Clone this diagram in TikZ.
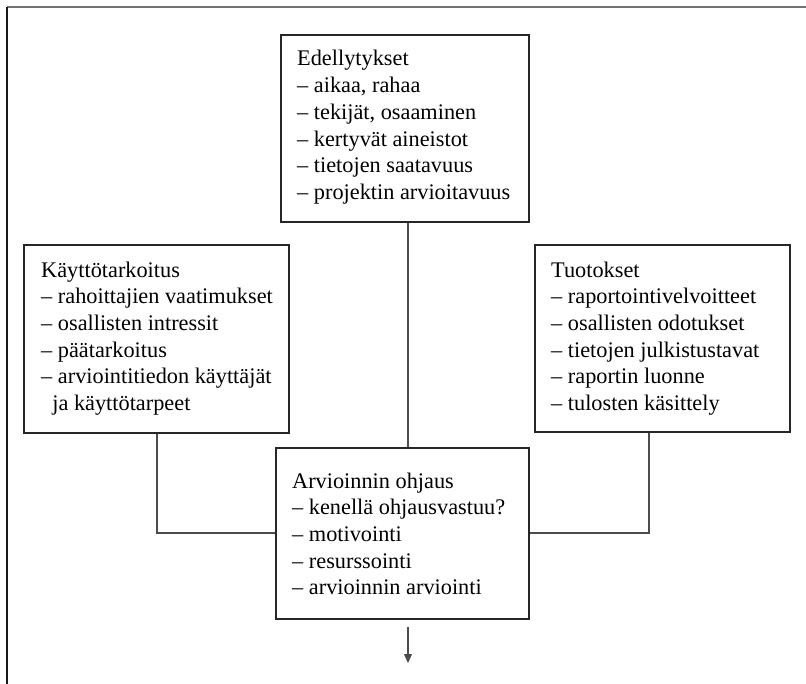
\documentclass[tikz,border=0pt]{standalone}
\usepackage{fontspec}
\setmainfont{Liberation Serif}
\usetikzlibrary{arrows.meta,calc}
\begin{document}
\begin{tikzpicture}[x=1pt,y=-1pt,
  box/.style={draw=black!85, line width=1.1pt, rectangle, inner sep=0pt},
  txt/.style={anchor=base west, align=left, inner sep=0pt,
    font=\fontsize{22.3}{26.7}\selectfont},
  conn/.style={draw=black!70, line width=1.1pt},
  frame/.style={line width=1.6pt}]
\useasboundingbox (0,0) rectangle (806,684);
% outer frame
\coordinate (fTL) at (7,7);
\coordinate (fTR) at (806,7);
\coordinate (fBL) at (7,684);
\draw[frame, draw=black!55] (fTL) -- (fTR);
\draw[frame, draw=black!90] (fTL) -- (fBL);
% boxes
\node[box, minimum width=248pt, minimum height=187pt] (ed) at (405,128.5) {};
\node[box, minimum width=265pt, minimum height=188pt] (kt) at (156.5,339) {};
\node[box, minimum width=255pt, minimum height=187pt] (tu) at (662.5,338.5) {};
\node[box, minimum width=253pt, minimum height=171pt] (ao) at (402.5,533.5) {};
% texts (anchored at the baseline of their last line)
\node[txt] (edt) at (297,199.5) {Edellytykset\\– aikaa, rahaa\\– tekijät, osaaminen\\– kertyvät aineistot\\– tietojen saatavuus\\– projektin arvioitavuus};
\node[txt] (ktt) at (41,410.5) {Käyttötarkoitus\\– rahoittajien vaatimukset\\– osallisten intressit\\– päätarkoitus\\– arviointitiedon käyttäjät\\\hspace*{0.5em}ja käyttötarpeet};
\node[txt] (tut) at (551,410.5) {Tuotokset\\– raportointivelvoitteet\\– osallisten odotukset\\– tietojen julkistustavat\\– raportin luonne\\– tulosten käsittely};
\node[txt] (aot) at (292,594.8) {Arvioinnin ohjaus\\– kenellä ohjausvastuu?\\– motivointi\\– resurssointi\\– arvioinnin arviointi};
% connectors
\coordinate (mx) at (408,0);
\coordinate (lj) at (157,533);
\coordinate (rj) at (649,533);
\coordinate (arrtip) at (408,663);
\draw[conn] (ed.south -| mx) -- (ao.north -| mx);
\draw[conn] (kt.south -| lj) |- (ao.west |- lj);
\draw[conn] (tu.south -| rj) |- (ao.east |- rj);
\draw[conn, -{Triangle[length=9pt,width=8pt]}] ($(ao.south -| arrtip)+(0,7)$) -- (arrtip);
\end{tikzpicture}
\end{document}
